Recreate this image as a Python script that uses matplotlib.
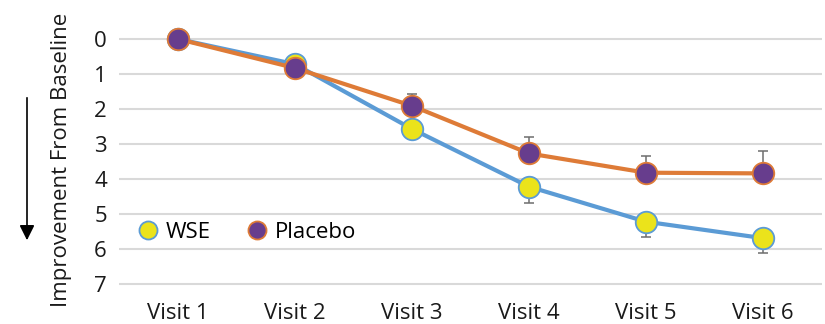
import matplotlib
matplotlib.use("Agg")
import matplotlib.pyplot as plt
from matplotlib.lines import Line2D

plt.rcParams['font.family'] = ['Open Sans', 'DejaVu Sans']

visits = ["Visit 1", "Visit 2", "Visit 3", "Visit 4", "Visit 5", "Visit 6"]
wse = [0.0, 0.72, 2.57, 4.22, 5.22, 5.69]
placebo = [0.0, 0.83, 1.91, 3.27, 3.82, 3.84]
wse_err = [0.0, 0.1, 0.3, 0.47, 0.43, 0.43]
placebo_err = [0.0, 0.1, 0.35, 0.46, 0.49, 0.65]
y_ticks = [0, 1, 2, 3, 4, 5, 6, 7]

W, H = 825, 324
fig = plt.figure(figsize=(W / 100, H / 100), dpi=100)
ax = fig.add_axes([119.5 / W, (H - 295) / H, 702 / W, 270 / H])

x = list(range(len(visits)))
blue, orange = "#5B9BD5", "#DE7B37"
yellow, purple = "#EBE31B", "#673D8D"
err_col = "#6E6E6E"

# error bars: WSE extends downward, placebo upward
ax.errorbar(x, wse, yerr=[[0] * len(wse), wse_err], fmt="none",
            ecolor=err_col, elinewidth=1.1, capsize=3.5, capthick=1.1, zorder=2)
ax.errorbar(x, placebo, yerr=[placebo_err, [0] * len(placebo)], fmt="none",
            ecolor=err_col, elinewidth=1.1, capsize=3.5, capthick=1.1, zorder=2)

ax.plot(x, wse, color=blue, lw=3, solid_capstyle="round", zorder=3,
        marker="o", ms=15.5, mfc=yellow, mec=blue, mew=1.3)
ax.plot(x, placebo, color=orange, lw=3, solid_capstyle="round", zorder=4,
        marker="o", ms=15.5, mfc=purple, mec=orange, mew=1.3)

ax.set_xlim(-0.5, len(visits) - 0.5)
ax.set_ylim(7 + 11 / 35, -14 / 35)
ax.set_yticks(y_ticks)
ax.set_xticks(x)
ax.set_xticklabels(visits)
ax.tick_params(axis="both", length=0, labelsize=16, colors="#1A1A1A")
ax.tick_params(axis="y", pad=9)
ax.tick_params(axis="x", pad=6)
ax.grid(axis="y", color="#D9D9D9", lw=1.5)
ax.set_axisbelow(True)
for s in ax.spines.values():
    s.set_visible(False)

ax.set_ylabel("Improvement From Baseline", fontsize=16, color="#1A1A1A", labelpad=16)

handles = [
    Line2D([], [], ls="none", marker="o", ms=13, mfc=yellow, mec=blue, mew=1.3),
    Line2D([], [], ls="none", marker="o", ms=13, mfc=purple, mec=orange, mew=1.3),
]
ax.legend(handles, ["WSE", "Placebo"], ncol=2, frameon=False, fontsize=16,
          loc="center left", bbox_to_anchor=(17 / 702, (295 - 232) / 270),
          handlelength=1.0, handletextpad=0.3, columnspacing=1.6,
          borderaxespad=0, borderpad=0)

# direction arrow beside the axis title
fig.add_artist(matplotlib.patches.FancyArrowPatch(
    (27 / W, (H - 95) / H), (27 / W, (H - 243) / H), transform=fig.transFigure,
    arrowstyle="-|>,head_length=6,head_width=3", color="black", lw=1.2,
    mutation_scale=1.5))

fig.savefig("out.png", dpi=100)
